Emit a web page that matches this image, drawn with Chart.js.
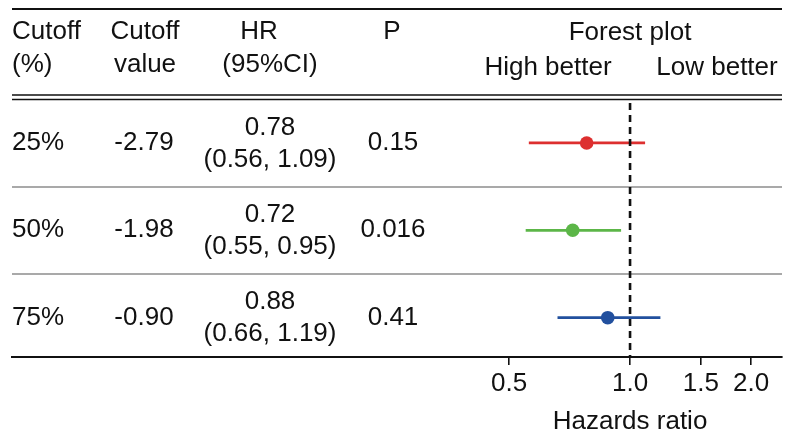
<!DOCTYPE html>
<html>
<head>
<meta charset="utf-8">
<script src="https://cdn.jsdelivr.net/npm/chart.js@4.4.1/dist/chart.umd.min.js"></script>
<style>
  html, body { margin: 0; padding: 0; background: #fff; }
  canvas { display: block; }
</style>
</head>
<body>
<canvas id="forest" width="800" height="445"></canvas>
<script>
// данні з таблиці
const cutoffPct = ['25%', '50%', '75%'];
const cutoffValue = ['-2.79', '-1.98', '-0.90'];
const hrValues = [0.78, 0.72, 0.88];
const ciLow = [0.56, 0.55, 0.66];
const ciHigh = [1.09, 0.95, 1.19];
const pValues = ['0.15', '0.016', '0.41'];
const xTicks = [0.5, 1.0, 1.5, 2.0];
const refLine = [1];

const rowColors = ['#dd2f2f', '#5cb648', '#22509e'];
const FONT_FAMILY = '"Liberation Sans", Arial, sans-serif';
const FONT = '26px ' + FONT_FAMILY;

// таблиця, лінії та підписи малюються поверх графіка
const tablePlugin = {
    id: 'tablePlugin',
    afterDraw(chart) {
        const ctx = chart.ctx;
        const x = chart.scales.x;
        const y = chart.scales.y;
        const area = chart.chartArea;

        ctx.save();
        // горизонтальні лінії таблиці
        ctx.strokeStyle = '#111';
        ctx.lineWidth = 2;
        ctx.beginPath();
        ctx.moveTo(area.left, 9); ctx.lineTo(area.right, 9);
        ctx.stroke();
        ctx.lineWidth = 1.6;
        ctx.beginPath();
        ctx.moveTo(area.left, 95); ctx.lineTo(area.right, 95);
        ctx.moveTo(area.left, 99.5); ctx.lineTo(area.right, 99.5);
        ctx.stroke();

        // пунктир HR = 1
        refLine.forEach(v => {
            const px = x.getPixelForValue(v);
            ctx.setLineDash([7, 5]);
            ctx.lineWidth = 2.6;
            ctx.strokeStyle = '#111';
            ctx.beginPath();
            ctx.moveTo(px, area.top + 2);
            ctx.lineTo(px, area.bottom);
            ctx.stroke();
            ctx.setLineDash([]);
        });

        ctx.fillStyle = '#111';
        ctx.font = FONT;
        ctx.textBaseline = 'middle';

        const text = (s, tx, ty, align) => {
            ctx.textAlign = align || 'center';
            ctx.fillText(s, tx, ty);
        };

        // заголовок
        text('Cutoff', 12, 32, 'left');
        text('(%)', 12, 65, 'left');
        text('Cutoff', 145, 32);
        text('value', 145, 65);
        text('HR', 259, 32);
        text('(95%CI)', 270, 65);
        text('P', 392, 32);
        const mid = x.getPixelForValue(refLine[0]);
        text('Forest plot', mid, 33);
        text('High better', 548, 68);
        text('Low better', 717, 68);

        // рядки
        hrValues.forEach((v, i) => {
            const py = y.getPixelForValue(i);
            text(cutoffPct[i], 12, py, 'left');
            text(cutoffValue[i], 144, py);
            text(v.toFixed(2), 270, py - 15.5);
            text('(' + ciLow[i].toFixed(2) + ', ' + ciHigh[i].toFixed(2) + ')', 270, py + 16.5);
            text(pValues[i], 393, py);
        });

        text('Hazards ratio', mid, 422);
        ctx.restore();
    }
};

const datasets = hrValues.map((v, i) => ({
    data: [
        { x: ciLow[i], y: i },
        { x: v, y: i },
        { x: ciHigh[i], y: i }
    ],
    showLine: true,
    borderColor: rowColors[i],
    backgroundColor: rowColors[i],
    borderWidth: 2.8,
    pointRadius: [0, 6.8, 0],
    pointBorderWidth: 0,
    pointHoverRadius: [0, 6.8, 0]
}));

new Chart(document.getElementById('forest').getContext('2d'), {
    type: 'scatter',
    data: { datasets: datasets },
    options: {
        responsive: false,
        animation: false,
        devicePixelRatio: 1,
        layout: { padding: { left: 12, right: 18, top: 101, bottom: 0 } },
        plugins: {
            legend: { display: false },
            tooltip: { enabled: false }
        },
        scales: {
            x: {
                type: 'logarithmic',
                min: 0.029,
                max: 2.388,
                afterBuildTicks: s => { s.ticks = xTicks.map(v => ({ value: v })); },
                afterFit: s => { s.height = 88; },
                ticks: {
                    color: '#111',
                    font: { family: FONT_FAMILY, size: 26 },
                    padding: 3,
                    autoSkip: false,
                    maxRotation: 0,
                    callback: v => Number(v).toFixed(1)
                },
                grid: {
                    drawOnChartArea: false,
                    drawTicks: true,
                    tickLength: 8,
                    color: '#111',
                    lineWidth: 1.6
                },
                border: { display: true, color: '#111', width: 2 }
            },
            y: {
                type: 'linear',
                reverse: true,
                min: -0.48,
                max: 2.45,
                afterBuildTicks: s => {
                    s.ticks = hrValues.slice(1).map((_, i) => ({ value: i + 0.5 }));
                },
                afterFit: s => { s.width = 0; },
                ticks: { display: false },
                grid: { color: '#a9a9a9', lineWidth: 2, drawTicks: false },
                border: { display: false }
            }
        }
    },
    plugins: [tablePlugin]
});
</script>
</body>
</html>
